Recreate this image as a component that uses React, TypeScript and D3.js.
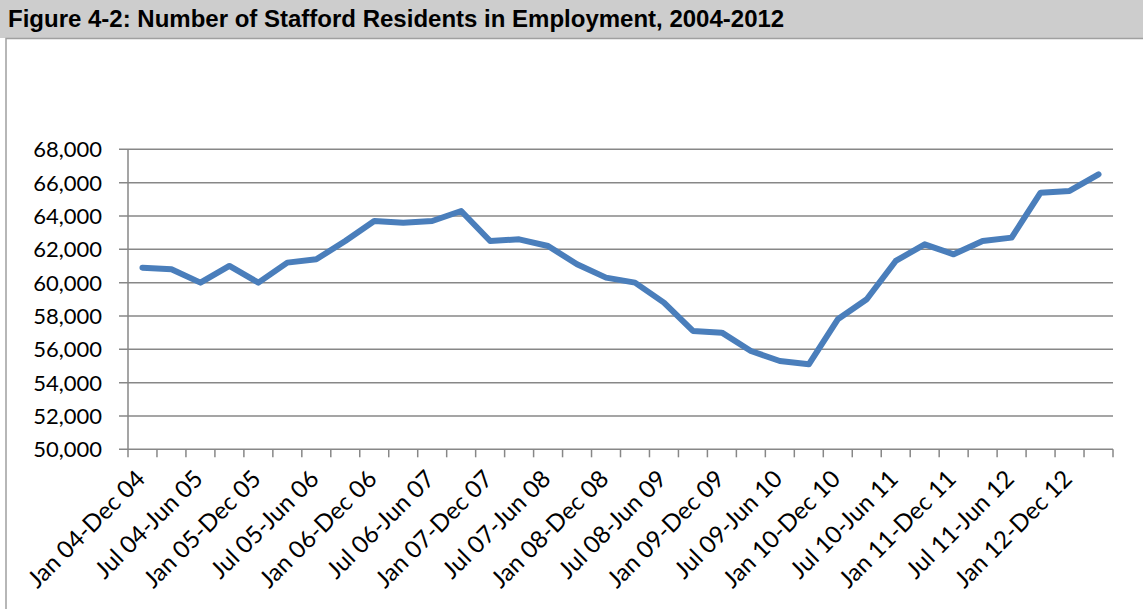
import React from "react";
import * as d3 from "d3";

const categories = [
  "Jan 04-Dec 04", "Apr 04-Mar 05", "Jul 04-Jun 05", "Oct 04-Sep 05",
  "Jan 05-Dec 05", "Apr 05-Mar 06", "Jul 05-Jun 06", "Oct 05-Sep 06",
  "Jan 06-Dec 06", "Apr 06-Mar 07", "Jul 06-Jun 07", "Oct 06-Sep 07",
  "Jan 07-Dec 07", "Apr 07-Mar 08", "Jul 07-Jun 08", "Oct 07-Sep 08",
  "Jan 08-Dec 08", "Apr 08-Mar 09", "Jul 08-Jun 09", "Oct 08-Sep 09",
  "Jan 09-Dec 09", "Apr 09-Mar 10", "Jul 09-Jun 10", "Oct 09-Sep 10",
  "Jan 10-Dec 10", "Apr 10-Mar 11", "Jul 10-Jun 11", "Oct 10-Sep 11",
  "Jan 11-Dec 11", "Apr 11-Mar 12", "Jul 11-Jun 12", "Oct 11-Sep 12",
  "Jan 12-Dec 12", "Apr 12-Mar 13",
];

const employed = [
  60900, 60800, 60000, 61000, 60000, 61200, 61400, 62500,
  63700, 63600, 63700, 64300, 62500, 62600, 62200, 61100,
  60300, 60000, 58800, 57100, 57000, 55900, 55300, 55100,
  57800, 59000, 61300, 62300, 61700, 62500, 62700, 65400,
  65500, 66500,
];

const yTicks = [50000, 52000, 54000, 56000, 58000, 60000, 62000, 64000, 66000, 68000];

const title = "Figure 4-2: Number of Stafford Residents in Employment, 2004-2012";

export default function App() {
  const W = 1143, H = 609;
  const left = 128, right = 1113, top = 149.3, bottom = 449.3;
  const x = d3.scaleBand<string>().domain(categories).range([left, right]).padding(0);
  const bw = x.bandwidth();
  const cx = (c: string) => (x(c) as number) + bw / 2;
  const y = d3.scaleLinear().domain([50000, 68000]).range([bottom, top]);
  const fmt = d3.format(",");
  const line = d3
    .line<number>()
    .x((_, i) => cx(categories[i]))
    .y((d) => y(d))
    .curve(d3.curveLinear);

  const grid = "#878787";
  const tickEdges = categories.map((c) => x(c) as number).concat([right]);

  return (
    <svg
      width={W}
      height={H}
      style={{ position: "absolute", left: 0, top: 0, display: "block", background: "#fff" }}
    >
      <rect x={0} y={0} width={W} height={H} fill="#fff" />
      <rect x={0} y={0} width={W} height={38} fill="#cdcdcd" />
      <rect x={6} y={38.5} width={W + 20} height={H + 20} fill="#fff" stroke="#a0a0a0" strokeWidth={1.5} />
      <text
        x={8}
        y={27}
        fontFamily="'Liberation Sans', Arial, sans-serif"
        fontWeight="bold"
        fontSize={24}
        fill="#000"
      >
        {title}
      </text>

      {yTicks.map((t) => (
        <g key={t}>
          <line x1={left - 9} x2={right} y1={y(t)} y2={y(t)} stroke={grid} strokeWidth={1.5} />
          <text
            x={102}
            y={y(t)}
            dy="0.36em"
            textAnchor="end"
            fontFamily="Lato, 'Open Sans', sans-serif"
            fontSize={22}
            fill="#000"
          >
            {fmt(t)}
          </text>
        </g>
      ))}

      <line x1={left} x2={left} y1={top} y2={bottom} stroke={grid} strokeWidth={1.5} />
      {tickEdges.map((tx, i) => (
        <line key={i} x1={tx} x2={tx} y1={bottom} y2={bottom + 8} stroke={grid} strokeWidth={1.5} />
      ))}

      {categories.map((c, i) =>
        i % 2 === 0 ? (
          <text
            key={c}
            transform={`translate(${cx(c) + 4},${bottom + 31}) rotate(-45)`}
            textAnchor="end"
            fontFamily="Lato, 'Open Sans', sans-serif"
            fontSize={24}
            fill="#000"
          >
            {c}
          </text>
        ) : null
      )}

      <path
        d={line(employed) || ""}
        fill="none"
        stroke="#4a7ebb"
        strokeWidth={6}
        strokeLinejoin="round"
        strokeLinecap="round"
      />
    </svg>
  );
}
